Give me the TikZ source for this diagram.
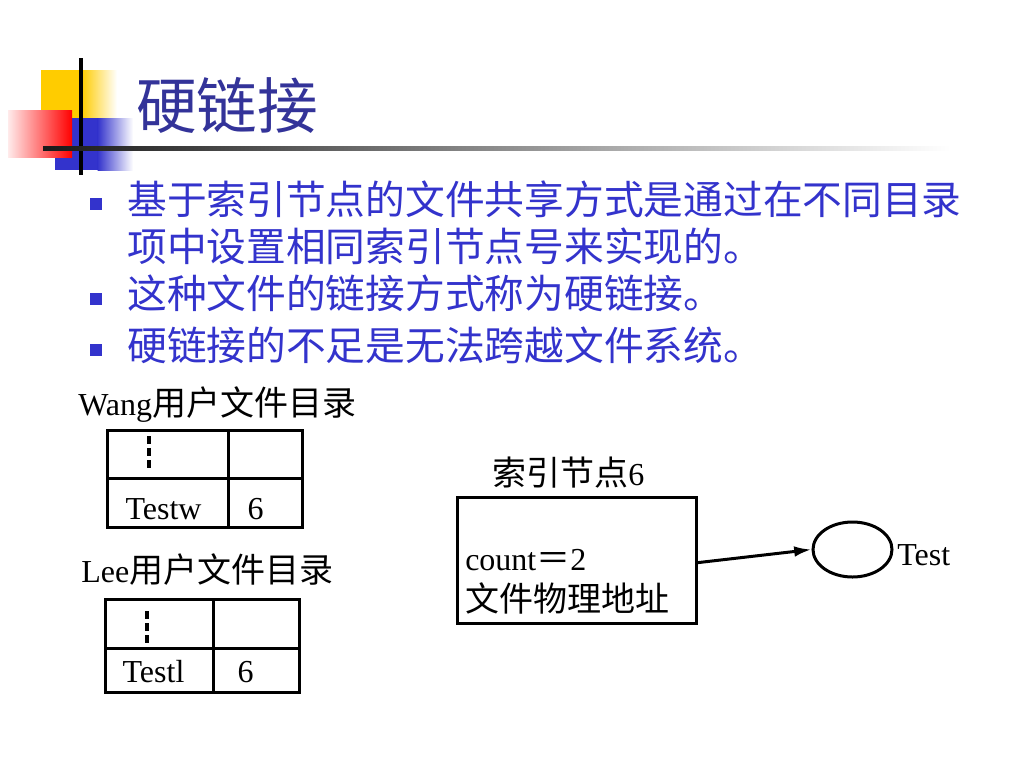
\documentclass[tikz,border=0pt]{standalone}
\usepackage{fontspec}
\setmainfont{Liberation Serif}
\newfontfamily\cjk{Noto Sans CJK SC}
\usetikzlibrary{shapes.geometric,arrows.meta}
\definecolor{titleblue}{RGB}{51,51,153}
\definecolor{textblue}{RGB}{51,51,204}
\definecolor{decoyellow}{RGB}{255,204,0}
\definecolor{decoblue}{RGB}{51,51,204}
\definecolor{decored}{RGB}{255,0,0}
\tikzset{
  cell/.style={draw=black,line width=2.25pt,inner sep=0pt},
  bulletsq/.style={fill=textblue,inner sep=0pt,minimum size=9pt},
  bullettext/.style={anchor=west,inner sep=0pt,text=textblue,font=\cjk\fontsize{29.8}{32}\selectfont},
  lbl/.style={anchor=base west,inner sep=0pt,font=\fontsize{24}{28}\selectfont},
  celltext/.style={inner sep=0pt,font=\fontsize{24}{28}\selectfont},
  dotline/.style={line width=2.4pt,dash pattern=on 6pt off 3pt},
}
\newcommand{\zh}[1]{{\cjk\fontsize{25.5}{28}\selectfont #1}}
\begin{document}
\begin{tikzpicture}[x=0.75pt,y=-0.75pt]
\useasboundingbox[fill=white] (0,0) rectangle (1024,768);
% decoration
\fill[decoyellow] (41,70) rectangle (82,118);
\shade[left color=decoyellow,right color=white] (81.5,70) rectangle (117,118);
\fill[decoblue] (55,118) rectangle (98,170);
\shade[left color=decoblue,right color=white] (97.5,118) rectangle (133,170);
\shade[left color=decored!8,right color=decored] (8,110) rectangle (72,157);
\draw[line width=2.5pt,black] (81,58) -- (81,175);
\shade[left color=black!90,right color=white,middle color=black!45] (43,146) rectangle (950,150.5);
% title
\node[anchor=west,inner sep=0pt,text=titleblue,font=\cjk\fontsize{45.5}{50}\selectfont] (title) at (136,105) {硬链接};
% bullets
\node[bulletsq] (b1) at (96,204) {};
\node[bulletsq] (b2) at (96,299) {};
\node[bulletsq] (b3) at (96,350) {};
\node[bullettext] (t1) at (127,199) {基于索引节点的文件共享方式是通过在不同目录};
\node[bullettext] (t2) at (127,246) {项中设置相同索引节点号来实现的。};
\node[bullettext] (t3) at (127,293) {这种文件的链接方式称为硬链接。};
\node[bullettext] (t4) at (127,345) {硬链接的不足是无法跨越文件系统。};
% Wang table
\node[lbl] (wanglbl) at (78,415) {Wang\zh{用户文件目录}};
\node[cell,minimum width=90.75pt,minimum height=36pt] (a11) at (167.5,454) {};
\node[cell,minimum width=55.5pt,minimum height=36pt] (a12) at (265,454) {};
\node[cell,minimum width=90.75pt,minimum height=36.75pt] (a21) at (167.5,502.5) {};
\node[cell,minimum width=55.5pt,minimum height=36.75pt] (a22) at (265,502.5) {};
\coordinate (a1top) at (149,436);
\coordinate (a1bot) at (149,471);
\draw[dotline] (a1top) -- (a1bot);
\node[celltext] (testw) at (163.5,509) {Testw};
\node[celltext] (a6) at (255.5,509) {6};
% Lee table
\node[lbl] (leelbl) at (81,582) {Lee\zh{用户文件目录}};
\node[cell,minimum width=81pt,minimum height=36.75pt] (b11) at (159,623.5) {};
\node[cell,minimum width=64.5pt,minimum height=36.75pt] (b12) at (256,623.5) {};
\node[cell,minimum width=81pt,minimum height=33pt] (b21) at (159,670) {};
\node[cell,minimum width=64.5pt,minimum height=33pt] (b22) at (256,670) {};
\coordinate (b1top) at (147,611);
\coordinate (b1bot) at (147,646);
\draw[dotline] (b1top) -- (b1bot);
\node[celltext] (testl) at (153.5,672) {Testl};
\node[celltext] (b6) at (245.5,672) {6};
% index node
\node[lbl] (inodelbl) at (492,485) {\zh{索引节点}6};
\node[cell,minimum width=179.25pt,minimum height=94.5pt] (inode) at (576.5,560) {};
\node[lbl] (count) at (465,570) {count\zh{＝}2};
\node[lbl] (addr) at (465,611) {\zh{文件物理地址}};
% file
\node[draw,ellipse,line width=2.25pt,inner sep=0pt,minimum width=59.25pt,minimum height=41.25pt] (file) at (852.5,549.5) {};
\node[lbl] (test) at (897,565) {Test};
\draw[line width=2.25pt,-{Latex[length=13pt,width=8pt]}] ([yshift=-2pt]inode.east) -- (file.west);
\end{tikzpicture}
\end{document}
